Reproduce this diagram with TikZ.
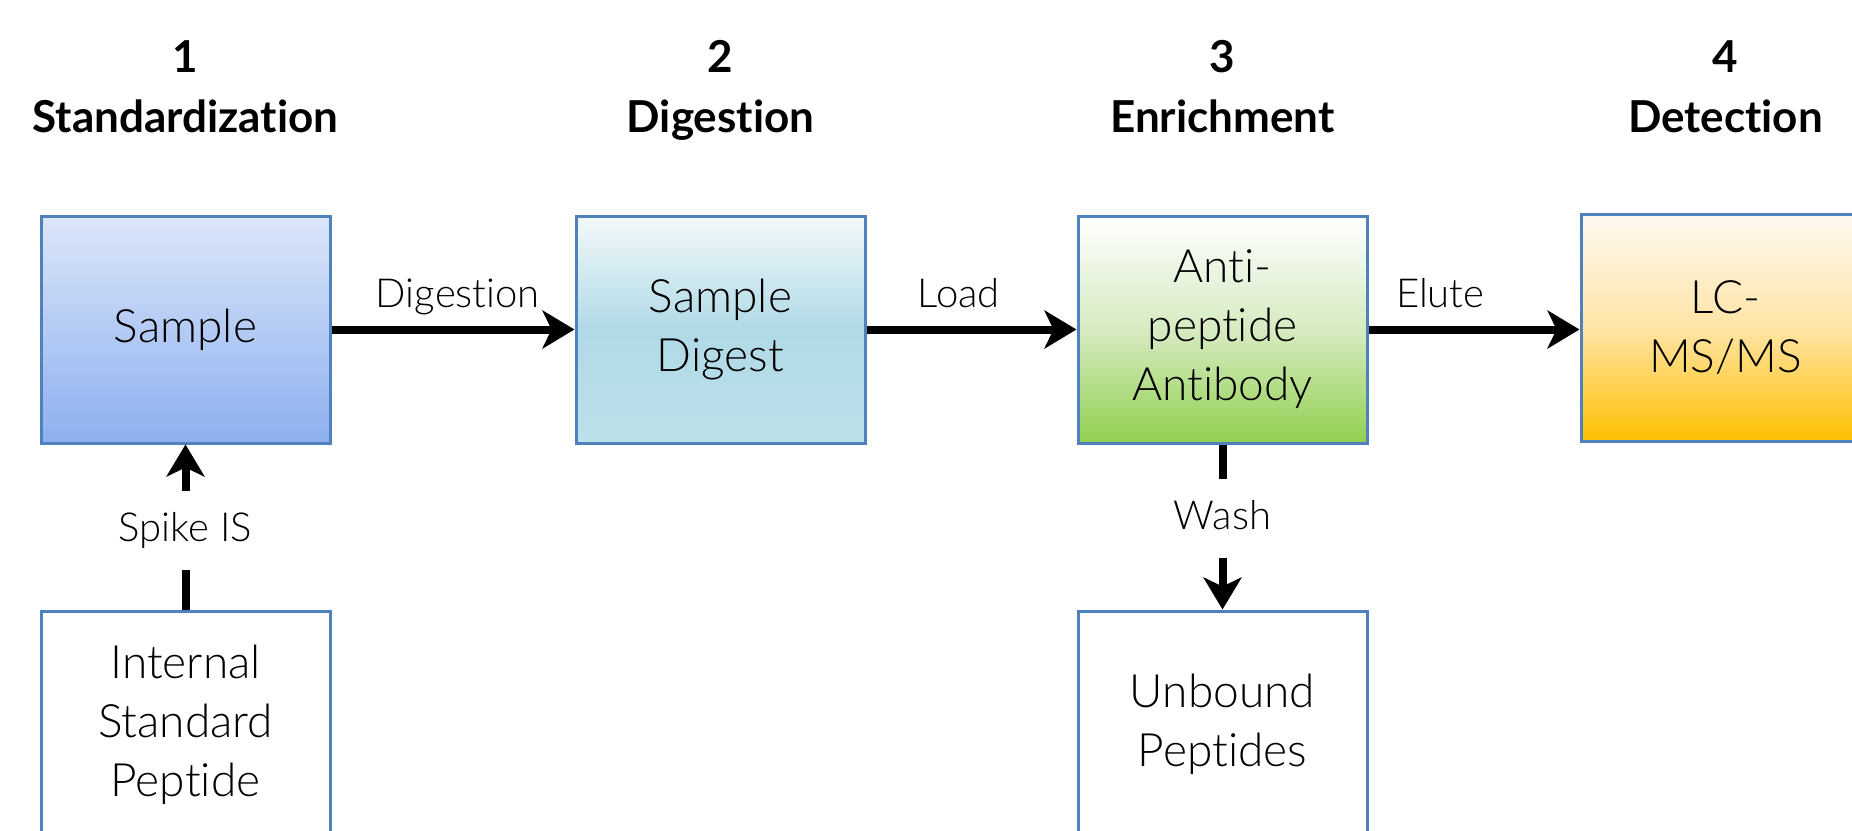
\documentclass[tikz,border=0pt]{standalone}
\usepackage{fontspec}
\setmainfont{Lato}[UprightFont=* Light, BoldFont=* Bold, Ligatures={NoCommon}]
\usetikzlibrary{arrows.meta}

\definecolor{edgeblue}{RGB}{79,129,189}
\definecolor{sampTop}{RGB}{220,230,249}
\definecolor{sampBot}{RGB}{141,176,240}
\definecolor{digTop}{RGB}{244,249,251}
\definecolor{digMid}{RGB}{176,218,230}
\definecolor{digBot}{RGB}{188,224,234}
\definecolor{abTop}{RGB}{255,255,255}
\definecolor{abMid}{RGB}{214,235,194}
\definecolor{abBot}{RGB}{146,208,80}
\definecolor{lcTop}{RGB}{255,249,242}
\definecolor{lcMid}{RGB}{255,228,165}
\definecolor{lcBot}{RGB}{255,192,0}

\tikzset{
  stagebox/.style={draw=edgeblue, line width=3pt, minimum width=289pt,
    minimum height=227pt, inner sep=0pt, align=center,
    font=\fontsize{46}{59}\selectfont},
  flow/.style={line width=8pt, -{Stealth[length=32pt,width=38pt,inset=9pt]}},
  hlab/.style={anchor=base, yshift=22pt, inner sep=0pt,
    font=\fontsize{40}{47}\selectfont},
  vlab/.style={fill=white, inner xsep=4pt, inner ysep=20pt,
    text height=30pt, text depth=9pt, font=\fontsize{40}{47}\selectfont},
  stepnum/.style={anchor=base, inner sep=0pt, font=\bfseries\fontsize{44}{50}\selectfont},
  steptitle/.style={anchor=base, inner sep=0pt, font=\bfseries\fontsize{44}{50}\selectfont}
}

\begin{document}
\begin{tikzpicture}[x=1pt,y=-1pt]
\useasboundingbox (0,0) rectangle (1852,830);
\clip (0,0) rectangle (1852,830);

% stage headings
\node[stepnum]   (n1) at (185.5,72) {1};
\node[steptitle] (h1) at (185.5,132) {Standardization};
\node[stepnum]   (n2) at (720.5,72) {2};
\node[steptitle] (h2) at (720.5,132) {Digestion};
\node[stepnum]   (n3) at (1222.5,72) {3};
\node[steptitle] (h3) at (1222.5,132) {Enrichment};
\node[stepnum]   (n4) at (1725.5,72) {4};
\node[steptitle] (h4) at (1725.5,132) {Detection};

% main row of stages
\node[stagebox, top color=sampTop, bottom color=sampBot] (sample) at (185.5,329.5) {Sample};
\node[stagebox, top color=digTop, bottom color=digBot, middle color=digMid] (digest) at (720.5,329.5) {Sample\\Digest};
\node[stagebox, top color=abTop, bottom color=abBot, middle color=abMid] (antibody) at (1222.5,329.5) {Anti-\\peptide\\Antibody};
\node[stagebox, top color=lcTop, bottom color=lcBot, middle color=lcMid] (lcms) at (1725.5,328) {LC-\\MS/MS};

% side boxes
\node[stagebox, fill=white] (isp) at (185.5,724.5) {Internal\\Standard\\Peptide};
\node[stagebox, fill=white] (unbound) at (1222.5,724.5) {Unbound\\Peptides};

% connectors
\draw[flow] (sample.east) -- node[hlab, pos=0.52] {Digestion} (digest.west);
\draw[flow] (digest.east) -- node[hlab, pos=0.44] {Load} (antibody.west);
\draw[flow] (antibody.east) -- node[hlab, pos=0.34] {Elute} (lcms.west |- antibody.east);
\draw[flow] (isp.north) -- node[vlab, pos=0.476] {Spike IS} (sample.south);
\draw[flow] (antibody.south) -- node[vlab, pos=0.45] {Wash} (unbound.north);
\end{tikzpicture}
\end{document}
